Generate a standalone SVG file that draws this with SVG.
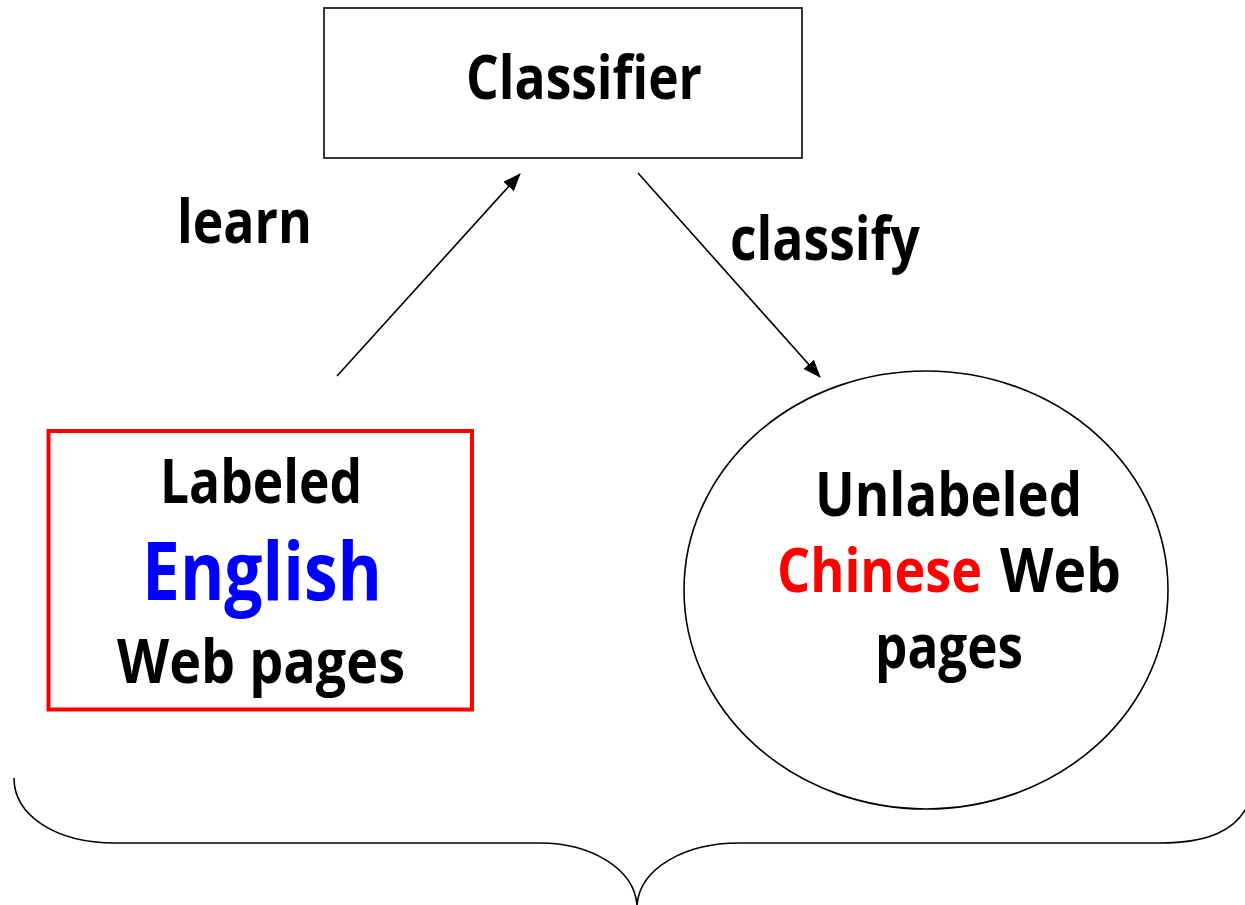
<svg xmlns="http://www.w3.org/2000/svg" width="1245" height="905" viewBox="0 0 1245 905">
<style>
.t{font-family:"Open Sans","Liberation Sans",sans-serif;font-weight:bold;font-size:60px;fill:#000}
.big{font-size:80px}
.edge{stroke:#000;stroke-width:1.6;fill:none}
</style>
<defs>
<marker id="ah" markerUnits="userSpaceOnUse" markerWidth="18" markerHeight="14" refX="17" refY="7" orient="auto">
<path d="M0,0 L18,7 L0,14 Z" fill="#000"/>
</marker>
</defs>
<rect width="1245" height="905" fill="#fff"/>
<g id="classifier">
<rect x="324" y="8" width="478" height="150" fill="#fff" stroke="#222" stroke-width="1.8"/>
<text class="t" x="466" y="99" textLength="236" lengthAdjust="spacingAndGlyphs">Classifier</text>
</g>
<g id="labeled">
<rect x="48.5" y="431" width="423.5" height="278.5" fill="#fff" stroke="#f00" stroke-width="4"/>
<text class="t" x="160" y="503" textLength="202" lengthAdjust="spacingAndGlyphs">Labeled</text>
<text class="t big" x="142" y="600" style="fill:#00f" textLength="240" lengthAdjust="spacingAndGlyphs">English</text>
<text class="t" x="117" y="683" textLength="288" lengthAdjust="spacingAndGlyphs">Web pages</text>
</g>
<g id="unlabeled">
<ellipse cx="926" cy="590" rx="242" ry="219" fill="#fff" stroke="#000" stroke-width="1.6"/>
<text class="t" x="815" y="516" textLength="267" lengthAdjust="spacingAndGlyphs">Unlabeled</text>
<text class="t" x="777" y="592" style="fill:#f00" textLength="205" lengthAdjust="spacingAndGlyphs">Chinese</text>
<text class="t" x="1000" y="592" textLength="121" lengthAdjust="spacingAndGlyphs">Web</text>
<text class="t" x="875" y="668" textLength="148" lengthAdjust="spacingAndGlyphs">pages</text>
</g>
<g id="connectors">
<line class="edge" x1="337" y1="376" x2="520" y2="174" marker-end="url(#ah)"/>
<line class="edge" x1="638" y1="173" x2="820" y2="377" marker-end="url(#ah)"/>
<path class="edge" d="M14,778 C14,815 55,843 115,843 L540,843 C590,843 634,868 637,905 C640,868 685,843 739,843 L1160,843 C1205,843 1238,832 1250,800"/>
</g>
<g id="edge-labels">
<text class="t" x="177" y="243" textLength="135" lengthAdjust="spacingAndGlyphs">learn</text>
<text class="t" x="730" y="260" textLength="190" lengthAdjust="spacingAndGlyphs">classify</text>
</g>
</svg>
